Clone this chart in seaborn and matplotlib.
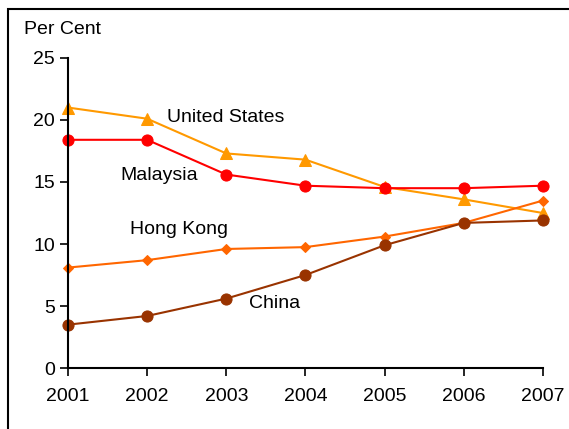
import pandas as pd
import matplotlib.pyplot as plt
import seaborn as sns
from matplotlib.patches import Rectangle

# Datos
years = [2001, 2002, 2003, 2004, 2005, 2006, 2007]
united_states = [21.0, 20.1, 17.3, 16.8, 14.6, 13.6, 12.5]
malaysia = [18.4, 18.4, 15.6, 14.7, 14.5, 14.5, 14.7]
hong_kong = [8.1, 8.7, 9.6, 9.75, 10.6, 11.7, 13.5]
china = [3.5, 4.2, 5.6, 7.5, 9.9, 11.7, 11.9]

series = {
    'United States': (united_states, '#FF9900', '^', 8),
    'Malaysia': (malaysia, '#FF0000', 'o', 8),
    'Hong Kong': (hong_kong, '#FF6600', 'D', 5.5),
    'China': (china, '#993300', 'o', 8),
}

sns.set_theme(style="white")
plt.rcParams['font.family'] = ['Liberation Sans', 'DejaVu Sans']
plt.rcParams['text.color'] = 'black'

fig = plt.figure(figsize=(5.69, 4.29), dpi=100)
ax = fig.add_axes([0.1195, 0.142, 0.8345, 0.723])

for name, (vals, color, marker, ms) in series.items():
    df = pd.DataFrame({'year': years, 'value': vals})
    sns.lineplot(data=df, x='year', y='value', color=color, marker=marker,
                 markersize=ms, markeredgecolor=color, linewidth=1.5, ax=ax)

ax.set_xlim(2001, 2007)
ax.set_ylim(0, 25)
ax.set_xticks(years)
ax.set_yticks([0, 5, 10, 15, 20, 25])
ax.set_xlabel('')
ax.set_ylabel('')
for side in ['top', 'right']:
    ax.spines[side].set_visible(False)
for side in ['left', 'bottom']:
    ax.spines[side].set_color('black')
    ax.spines[side].set_linewidth(1.5)
ax.tick_params(axis='both', direction='out', length=6, width=1.2, colors='black',
               labelsize=14, bottom=True, left=True)
ax.tick_params(axis='x', pad=8)
for line in ax.lines:
    line.set_clip_on(False)

# Etiquetas de series
lbl_kw = dict(fontsize=14, va='center', ha='left', color='black')
ax.text(2002.25, 20.2, 'United States', **lbl_kw)
ax.text(2001.66, 15.5, 'Malaysia', **lbl_kw)
ax.text(2001.78, 11.2, 'Hong Kong', **lbl_kw)
ax.text(2003.29, 5.2, 'China', **lbl_kw)

fig.text(24 / 569, 1 - 30 / 429, 'Per Cent', fontsize=14, va='center',
         ha='left', color='black')

# Marco de la figura
fig.patches.append(Rectangle((8 / 569, -0.1), 1.2, 1 - 9 / 429 + 0.1,
                             transform=fig.transFigure, fill=False,
                             edgecolor='black', linewidth=1.5))

plt.savefig('out.png', dpi=100)
